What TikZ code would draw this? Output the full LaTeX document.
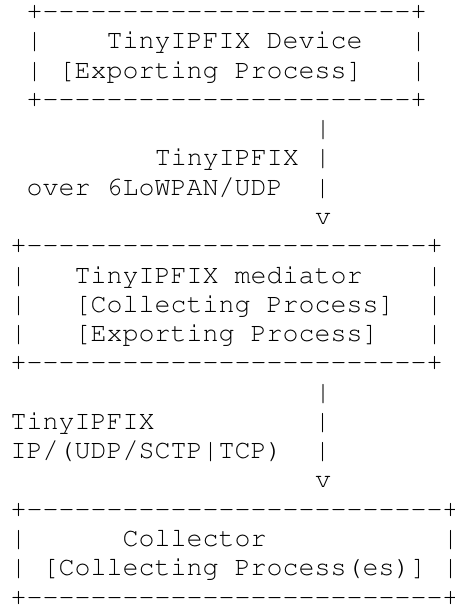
\documentclass[tikz,border=0pt]{standalone}
\usepackage[T1]{fontenc}
\usepackage{courier}
\newcommand{\dashes}[1]{\foreach \k in {1,...,#1}{-}}

\begin{document}
\begin{tikzpicture}[x=0.75pt,y=-0.75pt,ascii/.style={anchor=base west,inner sep=0pt,font=\fontsize{20pt}{22pt}\ttfamily}]
\useasboundingbox (0,0) rectangle (454,605);
\node[ascii] (devtop) at (26.33,19.5) {+\dashes{23}+};
\node[ascii] (devname) at (26.33,48.78) {|~~~~TinyIPFIX Device~~~|};
\node[ascii] (devproc) at (26.33,78.06) {|~[Exporting Process]~~~|};
\node[ascii] (devbot) at (26.33,107.34) {+\dashes{23}+};
\node[ascii] (linkaa) at (314.87,136.62) {|};
\node[ascii] (linkab) at (154.57,165.9) {TinyIPFIX~|};
\node[ascii] (linkac) at (26.33,195.18) {over 6LoWPAN/UDP~~|};
\node[ascii] (linkad) at (314.87,224.46) {v};
\node[ascii] (medtop) at (10.3,253.74) {+\dashes{25}+};
\node[ascii] (medname) at (10.3,283.02) {|~~~TinyIPFIX mediator~~~~|};
\node[ascii] (medcoll) at (10.3,312.3) {|~~~[Collecting Process]~~|};
\node[ascii] (medexp) at (10.3,341.58) {|~~~[Exporting Process]~~~|};
\node[ascii] (medbot) at (10.3,370.86) {+\dashes{25}+};
\node[ascii] (linkba) at (314.87,400.14) {|};
\node[ascii] (linkbb) at (10.3,429.42) {TinyIPFIX~~~~~~~~~~|};
\node[ascii] (linkbc) at (10.3,458.7) {IP/(UDP/SCTP|TCP)~~|};
\node[ascii] (linkbd) at (314.87,487.98) {v};
\node[ascii] (coltop) at (10.3,517.26) {+\dashes{26}+};
\node[ascii] (colname) at (10.3,546.54) {|~~~~~~Collector~~~~~~~~~~~|};
\node[ascii] (colproc) at (10.3,575.82) {|~[Collecting Process(es)]~|};
\node[ascii] (colbot) at (10.3,605.1) {+\dashes{26}+};
\end{tikzpicture}
\end{document}
